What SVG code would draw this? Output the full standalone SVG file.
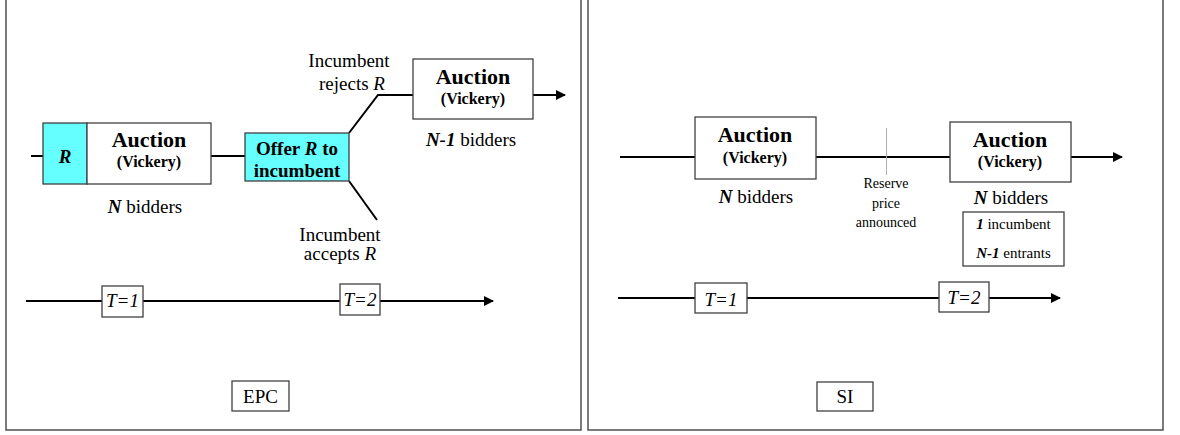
<svg xmlns="http://www.w3.org/2000/svg" width="1180" height="435" viewBox="0 0 1180 435">
<style>
text{font-family:"Liberation Serif","Times New Roman",serif;fill:#000}
.box{fill:#fff;stroke:#404040;stroke-width:1.3}
.cyan{fill:#66FFFF;stroke:#404040;stroke-width:1.3}
.ln{stroke:#000;stroke-width:2;fill:none}
.arr{stroke:#000;stroke-width:2;fill:none;marker-end:url(#ah)}
.panel{stroke:#505050;stroke-width:1.5;fill:none}
.big{font-size:22px;font-weight:bold}
.vk{font-size:16px;font-weight:bold}
.lbl{font-size:19px}
.sm{font-size:14px}
.sm15{font-size:15px}
.c{text-anchor:middle}
</style>
<defs>
<marker id="ah" viewBox="0 0 10 10" refX="9" refY="5" markerWidth="5" markerHeight="5" orient="auto" markerUnits="strokeWidth">
<path d="M0,0 L10,5 L0,10 z" fill="#000"/>
</marker>
</defs>
<g id="panels">
<path class="panel" d="M6,0 V430 H581 V0"/>
<path class="panel" d="M588,0 V430 H1163 V0"/>
</g>
<g id="connectors">
<line class="ln" x1="31" y1="156" x2="43" y2="156"/>
<line class="ln" x1="211" y1="156" x2="245" y2="156"/>
<polyline class="ln" points="349,133 378,95 413,95"/>
<line class="ln" x1="349" y1="181" x2="377" y2="220"/>
<line class="arr" x1="533" y1="95" x2="565" y2="95"/>
<line class="arr" x1="26" y1="301" x2="493" y2="301"/>
<line class="ln" x1="620" y1="157" x2="695" y2="157"/>
<line class="ln" x1="816" y1="157" x2="950" y2="157"/>
<line x1="886.5" y1="128" x2="886.5" y2="175" stroke="#b0b0b0" stroke-width="1"/>
<line class="arr" x1="1071" y1="157" x2="1122" y2="157"/>
<line class="arr" x1="618" y1="298" x2="1060" y2="298"/>
</g>
<g id="r-box">
<rect class="cyan" x="43" y="123" width="44" height="61"/>
<text class="c" x="65" y="163" font-size="19" font-weight="bold" font-style="italic">R</text>
</g>
<g id="auction1">
<rect class="box" x="87" y="123" width="124" height="61"/>
<text class="big c" x="149" y="147">Auction</text>
<text class="vk c" x="149" y="167">(Vickery)</text>
<text class="lbl c" x="145" y="213"><tspan font-weight="bold" font-style="italic">N</tspan> bidders</text>
</g>
<g id="offer">
<rect class="cyan" x="245" y="133" width="104" height="48"/>
<text class="lbl c" x="297" y="155" font-weight="bold">Offer <tspan font-style="italic">R</tspan> to</text>
<text class="lbl c" x="297" y="177" font-weight="bold">incumbent</text>
</g>
<g id="rejects">
<text class="lbl c" x="349" y="67">Incumbent</text>
<text class="lbl c" x="352" y="90">rejects <tspan font-style="italic">R</tspan></text>
</g>
<g id="accepts">
<text class="lbl c" x="340" y="241">Incumbent</text>
<text class="lbl c" x="340" y="260">accepts <tspan font-style="italic">R</tspan></text>
</g>
<g id="auction2">
<rect class="box" x="413" y="59" width="120" height="60"/>
<text class="big c" x="473" y="84">Auction</text>
<text class="vk c" x="473" y="104">(Vickery)</text>
<text class="lbl c" x="471" y="146"><tspan font-weight="bold" font-style="italic">N-1</tspan> bidders</text>
</g>
<g id="t1-left">
<rect class="box" x="102" y="286" width="41" height="31"/>
<text class="lbl c" x="122.5" y="307" font-style="italic">T=1</text>
</g>
<g id="t2-left">
<rect class="box" x="340" y="284" width="40" height="31"/>
<text class="lbl c" x="360" y="306" font-style="italic">T=2</text>
</g>
<g id="epc">
<rect class="box" x="232" y="381" width="57" height="30"/>
<text class="lbl c" x="260.5" y="403">EPC</text>
</g>
<g id="auction3">
<rect class="box" x="695" y="117" width="121" height="62"/>
<text class="big c" x="755" y="142">Auction</text>
<text class="vk c" x="755" y="163">(Vickery)</text>
<text class="lbl c" x="756" y="203"><tspan font-weight="bold" font-style="italic">N</tspan> bidders</text>
</g>
<g id="reserve">
<text class="sm c" x="886" y="188">Reserve</text>
<text class="sm c" x="886" y="208">price</text>
<text class="sm c" x="886" y="227">announced</text>
</g>
<g id="auction4">
<rect class="box" x="950" y="122" width="121" height="60"/>
<text class="big c" x="1010" y="147">Auction</text>
<text class="vk c" x="1010" y="167">(Vickery)</text>
<text class="lbl c" x="1011" y="204"><tspan font-weight="bold" font-style="italic">N</tspan> bidders</text>
</g>
<g id="bidders-box">
<rect class="box" x="963" y="212" width="101" height="54"/>
<text class="sm15 c" x="1013.5" y="229"><tspan font-weight="bold" font-style="italic">1</tspan> incumbent</text>
<text class="sm15 c" x="1013.5" y="258"><tspan font-weight="bold" font-style="italic">N-1</tspan>  entrants</text>
</g>
<g id="t1-right">
<rect class="box" x="695" y="283" width="52" height="30"/>
<text class="lbl c" x="721" y="306" font-style="italic">T=1</text>
</g>
<g id="t2-right">
<rect class="box" x="939" y="282" width="50" height="30"/>
<text class="lbl c" x="964" y="304" font-style="italic">T=2</text>
</g>
<g id="si">
<rect class="box" x="817" y="382" width="56" height="29"/>
<text class="lbl c" x="845" y="403">SI</text>
</g>
</svg>
